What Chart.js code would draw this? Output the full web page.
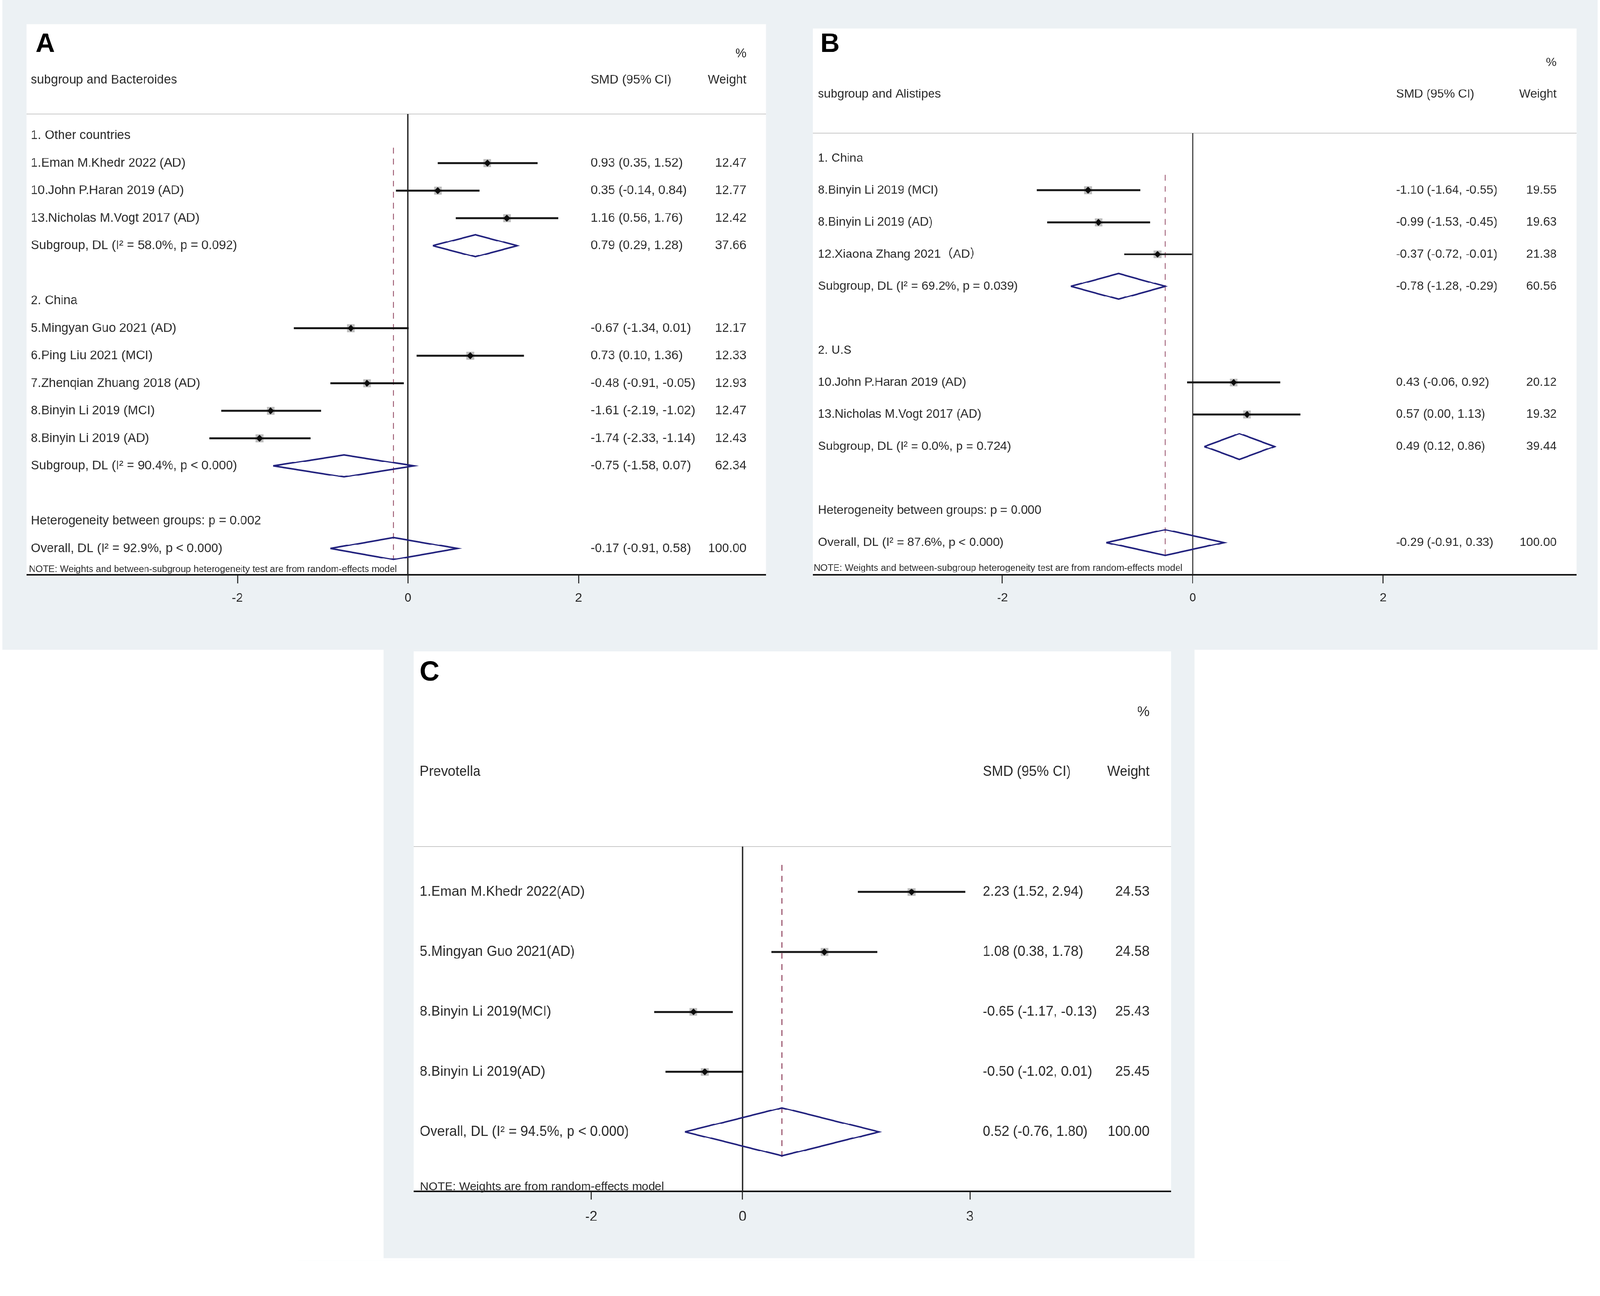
<!DOCTYPE html>
<html>
<head>
<meta charset="utf-8">
<title>Forest plots: Bacteroides, Alistipes, Prevotella</title>
<script src="https://cdn.jsdelivr.net/npm/chart.js@4.4.1/dist/chart.umd.min.js"></script>
<style>
  html, body { margin: 0; padding: 0; background: #fff; overflow: hidden; }
  #page { width: 4212px; height: 3319px; position: relative; transform-origin: 0 0; background: #fff; }
  .band { position: absolute; background: #ecf1f4; }
  .box { position: absolute; background: #fff; }
  canvas { position: absolute; }
</style>
</head>
<body>
<div id="page">
<div class="band" style="left:6px;top:0;width:4200px;height:1711px"></div>
<div class="band" style="left:1010px;top:1711px;width:2135px;height:1602px"></div>
<div class="box" style="left:70px;top:64px;width:1947px;height:1450px"></div>
<div class="box" style="left:2140px;top:75px;width:2010px;height:1439px"></div>
<div class="box" style="left:1089px;top:1715px;width:1994px;height:1422px"></div>
<canvas id="chartA" width="1947" height="1560" style="left:70px;top:64px"></canvas>
<canvas id="chartB" width="2010" height="1549" style="left:2140px;top:75px"></canvas>
<canvas id="chartC" width="1994" height="1532" style="left:1089px;top:1715px"></canvas>
</div>
<script>
// ---- A: Bacteroides ----
const bactLabels = [
  '1. Other countries',
  '1.Eman M.Khedr 2022 (AD)',
  '10.John P.Haran 2019 (AD)',
  '13.Nicholas M.Vogt 2017 (AD)',
  'Subgroup, DL (I\u00b2 = 58.0%, p = 0.092)',
  '',
  '2. China',
  '5.Mingyan Guo 2021 (AD)',
  '6.Ping Liu 2021 (MCI)',
  '7.Zhenqian Zhuang 2018 (AD)',
  '8.Binyin Li 2019 (MCI)',
  '8.Binyin Li 2019 (AD)',
  'Subgroup, DL (I\u00b2 = 90.4%, p < 0.000)',
  '',
  'Heterogeneity between groups: p = 0.002',
  'Overall, DL (I\u00b2 = 92.9%, p < 0.000)'
];
const bactKind = ['group', 'study', 'study', 'study', 'pooled', 'blank', 'group', 'study', 'study', 'study', 'study', 'study', 'pooled', 'blank', 'group', 'pooled'];
const bactSMD = [null, 0.93, 0.35, 1.16, 0.79, null, null, -0.67, 0.73, -0.48, -1.61, -1.74, -0.75, null, null, -0.17];
const bactLower = [null, 0.35, -0.14, 0.56, 0.29, null, null, -1.34, 0.10, -0.91, -2.19, -2.33, -1.58, null, null, -0.91];
const bactUpper = [null, 1.52, 0.84, 1.76, 1.28, null, null, 0.01, 1.36, -0.05, -1.02, -1.14, 0.07, null, null, 0.58];
const bactWeight = [null, 12.47, 12.77, 12.42, 37.66, null, null, 12.17, 12.33, 12.93, 12.47, 12.43, 62.34, null, null, 100.00];
const bactTicks = [-2, 0, 2];

// ---- B: Alistipes ----
const alisLabels = [
  '1. China',
  '8.Binyin Li 2019 (MCI)',
  '8.Binyin Li 2019 (AD)',
  '12.Xiaona Zhang 2021\uff08AD\uff09',
  'Subgroup, DL (I\u00b2 = 69.2%, p = 0.039)',
  '',
  '2. U.S',
  '10.John P.Haran 2019 (AD)',
  '13.Nicholas M.Vogt 2017 (AD)',
  'Subgroup, DL (I\u00b2 = 0.0%, p = 0.724)',
  '',
  'Heterogeneity between groups: p = 0.000',
  'Overall, DL (I\u00b2 = 87.6%, p < 0.000)'
];
const alisKind = ['group', 'study', 'study', 'study', 'pooled', 'blank', 'group', 'study', 'study', 'pooled', 'blank', 'group', 'pooled'];
const alisSMD = [null, -1.10, -0.99, -0.37, -0.78, null, null, 0.43, 0.57, 0.49, null, null, -0.29];
const alisLower = [null, -1.64, -1.53, -0.72, -1.28, null, null, -0.06, 0.00, 0.12, null, null, -0.91];
const alisUpper = [null, -0.55, -0.45, -0.01, -0.29, null, null, 0.92, 1.13, 0.86, null, null, 0.33];
const alisWeight = [null, 19.55, 19.63, 21.38, 60.56, null, null, 20.12, 19.32, 39.44, null, null, 100.00];
const alisTicks = [-2, 0, 2];

// ---- C: Prevotella ----
const prevLabels = [
  '1.Eman M.Khedr 2022(AD)',
  '5.Mingyan Guo 2021(AD)',
  '8.Binyin Li 2019(MCI)',
  '8.Binyin Li 2019(AD)',
  'Overall, DL (I\u00b2 = 94.5%, p < 0.000)'
];
const prevKind = ['study', 'study', 'study', 'study', 'pooled'];
const prevSMD = [2.23, 1.08, -0.65, -0.50, 0.52];
const prevLower = [1.52, 0.38, -1.17, -1.02, -0.76];
const prevUpper = [2.94, 1.78, -0.13, 0.01, 1.80];
const prevWeight = [24.53, 24.58, 25.43, 25.45, 100.00];
const prevTicks = [-2, 0, 3];

const FONT = '"Liberation Sans", Arial, "Noto Sans CJK SC", sans-serif';
const TEXT = '#2a2a2a';

// the layout is drawn for a 4212x3319 page; fit it to whatever viewport we get
function fitPage() {
  const s = Math.min(window.innerWidth / 4212, window.innerHeight / 3319);
  document.getElementById('page').style.transform = 'scale(' + s + ')';
}

function fmtCI(es, lo, hi) {
  return es.toFixed(2) + ' (' + lo.toFixed(2) + ', ' + hi.toFixed(2) + ')';
}

function forest(id, d, lay) {
  const ci = [], boxes = [], dots = [], pooled = [];
  let overall = null;
  d.kind.forEach((k, i) => {
    if (k === 'study') {
      ci.push({ x: d.lo[i], y: i }, { x: d.hi[i], y: i }, { x: NaN, y: NaN });
      boxes.push({ x: d.es[i], y: i });
      dots.push({ x: d.es[i], y: i });
    } else if (k === 'pooled') {
      const h = 0.4;
      pooled.push({ x: d.lo[i], y: i }, { x: d.es[i], y: i - h }, { x: d.hi[i], y: i },
                  { x: d.es[i], y: i + h }, { x: d.lo[i], y: i }, { x: NaN, y: NaN });
      overall = d.es[i];
    }
  });

  const textPlugin = {
    id: 'forestText',
    beforeDatasetsDraw(chart) {
      const ctx = chart.ctx, area = chart.chartArea;
      ctx.save();
      ctx.strokeStyle = '#c8c8c8';
      ctx.lineWidth = 2;
      ctx.beginPath();
      ctx.moveTo(0, area.top);
      ctx.lineTo(chart.width, area.top);
      ctx.stroke();
      ctx.restore();
    },
    afterDatasetsDraw(chart) {
      const ctx = chart.ctx, ys = chart.scales.y;
      ctx.save();
      ctx.textBaseline = 'middle';

      // panel letter
      ctx.fillStyle = '#000';
      ctx.font = 'bold ' + lay.letterFs + 'px ' + FONT;
      ctx.textAlign = 'left';
      ctx.fillText(lay.letter, lay.letterX, lay.letterY);

      // header
      ctx.fillStyle = TEXT;
      ctx.font = lay.fs + 'px ' + FONT;
      ctx.fillText(lay.title, lay.labelX, lay.headY);
      ctx.fillText('SMD (95% CI)', lay.smdX, lay.headY);
      ctx.textAlign = 'right';
      ctx.fillText('Weight', lay.wtR, lay.headY);
      ctx.fillText('%', lay.wtR, lay.pctY);

      // rows
      d.labels.forEach((lab, i) => {
        const y = ys.getPixelForValue(i);
        ctx.textAlign = 'left';
        if (lab) ctx.fillText(lab, lay.labelX, y);
        if (d.es[i] !== null) {
          ctx.fillText(fmtCI(d.es[i], d.lo[i], d.hi[i]), lay.smdX, y);
          ctx.textAlign = 'right';
          ctx.fillText(d.wt[i].toFixed(2), lay.wtR, y);
        }
      });

      // note under the plot
      ctx.textAlign = 'left';
      ctx.textBaseline = 'alphabetic';
      ctx.font = lay.noteFs + 'px ' + FONT;
      const w = ctx.measureText(lay.note).width;
      ctx.translate(lay.noteX, lay.noteY);
      ctx.scale(lay.noteW / w, 1);
      ctx.fillText(lay.note, 0, 0);
      ctx.restore();
    }
  };

  return new Chart(document.getElementById(id), {
    type: 'scatter',
    data: {
      datasets: [
        { data: [{ x: 0, y: lay.yMin }, { x: 0, y: lay.yMax }], showLine: true,
          borderColor: '#262626', borderWidth: 3.5, pointRadius: 0, order: 6 },
        { data: [{ x: overall, y: lay.dash[0] }, { x: overall, y: lay.dash[1] }], showLine: true,
          borderColor: '#9e5a72', borderWidth: 3, borderDash: [15, 14], pointRadius: 0, order: 5 },
        { data: boxes, pointStyle: 'rect', pointRadius: 14.5, backgroundColor: '#bdbdbd',
          borderWidth: 0, order: 4 },
        { data: ci, showLine: true, borderColor: '#161616', borderWidth: 5, pointRadius: 0, order: 3 },
        { data: pooled, showLine: true, borderColor: '#22227e', borderWidth: 4,
          borderJoinStyle: 'miter', pointRadius: 0, order: 2 },
        { data: dots, pointStyle: 'rectRot', pointRadius: 9, backgroundColor: '#0d0d0d',
          borderWidth: 0, order: 1 }
      ]
    },
    options: {
      responsive: false,
      animation: false,
      events: [],
      devicePixelRatio: 1,
      layout: { autoPadding: false, padding: { top: lay.padTop, left: 0, right: 0, bottom: 0 } },
      plugins: { legend: { display: false }, tooltip: { enabled: false } },
      scales: {
        x: {
          type: 'linear',
          min: lay.xMin,
          max: lay.xMax,
          afterBuildTicks: s => { s.ticks = d.ticks.map(v => ({ value: v })); },
          afterFit: s => { s.height = 110; },
          grid: { display: true, drawOnChartArea: false, drawTicks: true,
                  tickLength: 22, tickWidth: 2.5, tickColor: '#1a1a1a' },
          border: { display: true, width: 4, color: '#151515' },
          ticks: { font: { family: FONT, size: lay.fs }, color: TEXT, padding: lay.tickPad,
                   maxRotation: 0, autoSkip: false }
        },
        y: { type: 'linear', display: false, reverse: true, min: lay.yMin, max: lay.yMax }
      }
    },
    plugins: [textPlugin]
  });
}

document.addEventListener('DOMContentLoaded', function () {
  fitPage();

  forest('chartA',
    { labels: bactLabels, kind: bactKind, es: bactSMD, lo: bactLower, hi: bactUpper, wt: bactWeight, ticks: bactTicks },
    { letter: 'A', letterFs: 70, letterX: 24, letterY: 54,
      title: 'subgroup and Bacteroides', fs: 33, headY: 147, pctY: 78,
      labelX: 11, smdX: 1485, wtR: 1895,
      padTop: 236, yMin: -0.79, yMax: 15.96, dash: [0.44, 15.42],
      xMin: -4.472, xMax: 4.200, tickPad: 20,
      note: 'NOTE: Weights and between-subgroup heterogeneity test are from random-effects model',
      noteFs: 23, noteX: 6, noteY: 1442, noteW: 969 });

  forest('chartB',
    { labels: alisLabels, kind: alisKind, es: alisSMD, lo: alisLower, hi: alisUpper, wt: alisWeight, ticks: alisTicks },
    { letter: 'B', letterFs: 70, letterX: 20, letterY: 43,
      title: 'subgroup and Alistipes', fs: 32, headY: 173, pctY: 90,
      labelX: 13, smdX: 1535, wtR: 1958,
      padTop: 276, yMin: -0.78, yMax: 13.01, dash: [0.52, 12.43],
      xMin: -3.992, xMax: 4.032, tickPad: 20,
      note: 'NOTE: Weights and between-subgroup heterogeneity test are from random-effects model',
      noteFs: 23, noteX: 2, noteY: 1428, noteW: 971 });

  forest('chartC',
    { labels: prevLabels, kind: prevKind, es: prevSMD, lo: prevLower, hi: prevUpper, wt: prevWeight, ticks: prevTicks },
    { letter: 'C', letterFs: 72, letterX: 16, letterY: 57,
      title: 'Prevotella', fs: 36, headY: 318, pctY: 161,
      labelX: 16, smdX: 1498, wtR: 1937,
      padTop: 514, yMin: -0.76, yMax: 4.99, dash: [-0.45, 4.49],
      xMin: -4.343, xMax: 5.657, tickPad: 24,
      note: 'NOTE: Weights are from random-effects model',
      noteFs: 30, noteX: 17, noteY: 1419, noteW: 642 });
});
window.addEventListener('resize', fitPage);
</script>
</body>
</html>
